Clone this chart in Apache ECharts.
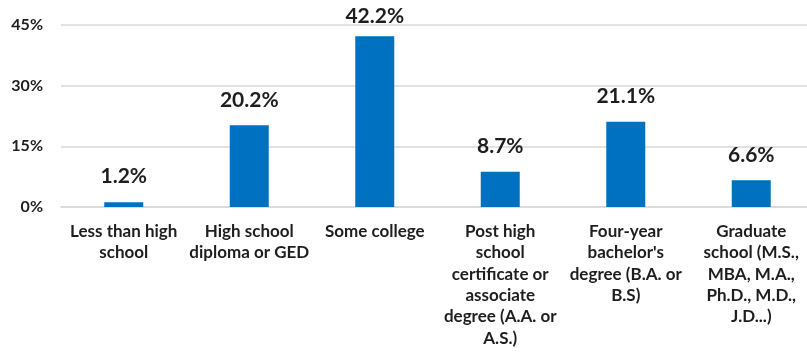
<!DOCTYPE html>
<html>
<head>
<meta charset="utf-8">
<script src="https://cdn.jsdelivr.net/npm/echarts@6/dist/echarts.min.js"></script>
<style>
  html, body { margin: 0; padding: 0; background: #fff; overflow: hidden; }
  #chart { width: 814px; height: 353px; }
</style>
</head>
<body>
<div id="chart"></div>
<script>
// Education levels (wrapped for the category axis)
const categories = [
  'Less than high\nschool',
  'High school\ndiploma or GED',
  'Some college',
  'Post high\nschool\ncertificate or\nassociate\ndegree (A.A. or\nA.S.)',
  "Four-year\nbachelor's\ndegree (B.A. or\nB.S)",
  'Graduate\nschool (M.S.,\nMBA, M.A.,\nPh.D., M.D.,\nJ.D...)'
];
// Share of respondents, percent
const shares = [1.2, 20.2, 42.2, 8.7, 21.1, 6.6];
// Y axis ticks
const yMin = 0, yMax = 45, yStep = 15;

const font = 'Lato, "Open Sans", sans-serif';
const textColor = '#1e1e1e';

// Labels sit above each bar; a bar reaching near the top keeps its label
// inside the canvas by tucking it closer to the bar.
const barData = shares.map(v => ({
  value: v,
  label: { distance: v > yMax - 5 ? 10 : 15 }
}));

const chart = echarts.init(document.getElementById('chart'));
chart.setOption({
  animation: false,
  grid: { left: 61, top: 25, right: 0, height: 182, containLabel: false },
  xAxis: {
    type: 'category',
    data: categories,
    axisLine: { lineStyle: { color: '#d9d9d9', width: 1.5 } },
    axisTick: { show: false },
    axisLabel: {
      interval: 0,
      margin: 14,
      color: textColor,
      fontFamily: font,
      fontWeight: 'bold',
      fontSize: 17,
      lineHeight: 21.3
    }
  },
  yAxis: {
    type: 'value',
    min: yMin, max: yMax, interval: yStep,
    axisLine: { show: false },
    axisTick: { show: false },
    splitLine: { lineStyle: { color: '#d9d9d9', width: 1.5 } },
    axisLabel: {
      margin: 18,
      color: textColor,
      fontFamily: font,
      fontWeight: 'bold',
      fontSize: 16,
      formatter: v => v + '%'
    }
  },
  series: [{
    type: 'bar',
    data: barData,
    barWidth: 39,
    itemStyle: { color: '#0070C0' },
    label: {
      show: true,
      position: 'top',
      color: textColor,
      fontFamily: font,
      fontWeight: 'bold',
      fontSize: 21,
      formatter: p => p.value.toFixed(1) + '%'
    }
  }]
});
</script>
</body>
</html>
